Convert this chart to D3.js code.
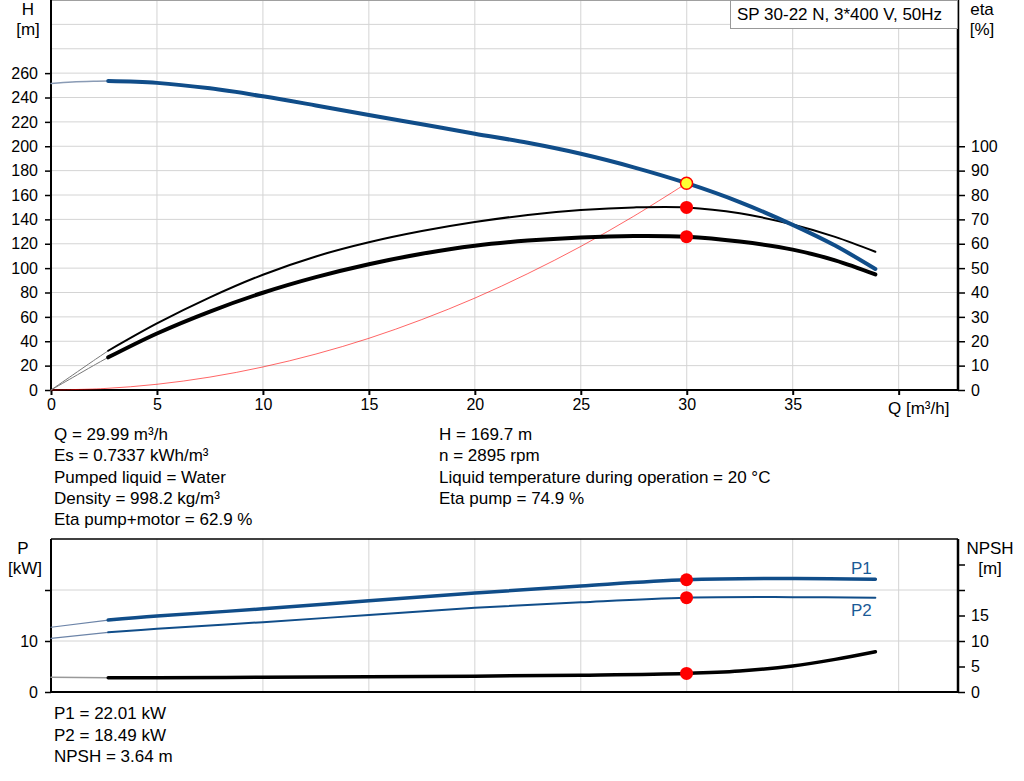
<!DOCTYPE html>
<html>
<head>
<meta charset="utf-8">
<script src="https://cdn.jsdelivr.net/npm/d3@7"></script>
<style>
  body { margin: 0; background: #fff; }
  svg { font-family: Arial, "Liberation Sans", sans-serif; }
  .grid line { stroke: #d4d4d4; stroke-width: 1; }
  .axis path, .axis line { stroke: #000; }
  .axis text { font-size: 16px; fill: #000; }
  .info { font-size: 17px; fill: #000; }
</style>
</head>
<body>
<svg width="1024" height="781"></svg>
<script>
// flow values (m3/h) for the measured part of the curves
var qCurve = [2.7, 5, 7.5, 10, 12.5, 15, 17.5, 20, 22.5, 25, 27.5, 30, 32.5, 35, 37, 38.9];
var headCurve = [253.5, 252, 247.5, 241, 233.5, 225.7, 218, 210.3, 202.8, 193.8, 182.7, 169.7, 154.2, 135.5, 118.5, 99.3];
var etaPump = [16.1, 27.3, 38, 47.3, 54.8, 60.6, 65.2, 68.9, 71.8, 73.8, 74.9, 74.9, 72.5, 67.9, 62.8, 56.7];
var etaTotal = [13.4, 23.2, 32.2, 39.9, 46.3, 51.6, 55.9, 59.2, 61.3, 62.6, 63.2, 62.9, 60.9, 57.6, 53.2, 47.4];

// extrapolated start of the curves (thin)
var qStart = [0, 1, 2, 2.7];
var headStart = [251.5, 252.7, 253.3, 253.5];
var etaPumpStart = [0, 6, 12, 16.1];
var etaTotalStart = [0, 5, 10, 13.4];

// system curve through the duty point
var qSystem = [0, 2.5, 5, 7.5, 10, 12.5, 15, 17.5, 20, 22.5, 25, 27.5, 30];
var headSystem = [0, 1.2, 4.7, 10.6, 18.9, 29.5, 42.4, 57.8, 75.4, 95.5, 117.8, 142.6, 169.7];

// power and NPSH
var qPower = [2.7, 5, 10, 15, 20, 25, 30, 35, 38.9];
var p1 = [14.1, 14.9, 16.3, 17.9, 19.4, 20.8, 22.01, 22.25, 22.1];
var p2 = [11.7, 12.4, 13.7, 15.1, 16.5, 17.6, 18.49, 18.6, 18.5];
var qPowerStart = [0, 2.7];
var p1Start = [12.7, 14.1];
var p2Start = [10.5, 11.7];
var qNpsh = [2.7, 5, 10, 15, 20, 25, 30, 32.5, 35, 37, 38.9];
var npsh = [2.8, 2.8, 2.9, 3.0, 3.1, 3.3, 3.64, 4.1, 5.1, 6.4, 7.9];
var npshStart = [2.9, 2.8];

// duty point
var dutyQ = 29.99;
var dutyH = 169.7;
var dutyEtaPump = 74.9;
var dutyEtaTotal = 62.9;
var dutyP1 = 22.01;
var dutyP2 = 18.49;
var dutyNpsh = 3.64;

// ticks and texts
var qTicks = [0, 5, 10, 15, 20, 25, 30, 35, 40];
var hTicks = [0, 20, 40, 60, 80, 100, 120, 140, 160, 180, 200, 220, 240, 260];
var hGrid = d3.range(20, 320, 20);
var etaTicks = [0, 10, 20, 30, 40, 50, 60, 70, 80, 90, 100];
var pTicks = [0, 10, 20];
var npshTicks = [0, 5, 10, 15, 20, 25];
var title = 'SP 30-22 N, 3*400 V, 50Hz';
var infoLeft = ['Q = 29.99 m\u00b3/h', 'Es = 0.7337 kWh/m\u00b3', 'Pumped liquid = Water',
  'Density = 998.2 kg/m\u00b3', 'Eta pump+motor = 62.9 %'];
var infoRight = ['H = 169.7 m', 'n = 2895 rpm', 'Liquid temperature during operation = 20 \u00b0C',
  'Eta pump = 74.9 %'];
var infoPower = ['P1 = 22.01 kW', 'P2 = 18.49 kW', 'NPSH = 3.64 m'];

var blue = '#104d89';
var svg = d3.select('svg');

var x = d3.scaleLinear().domain([0, 42.8]).range([51, 958]);
var yH = d3.scaleLinear().domain([0, 320]).range([390, 0]);
var yEta = d3.scaleLinear().domain([0, 160]).range([390, 0]);
var yP = d3.scaleLinear().domain([0, 30]).range([692, 539]);
var yN = d3.scaleLinear().domain([0, 30]).range([692, 539]);

function lineOf(xs, ys, yScale) {
  var pts = xs.map(function(q, i) { return [x(q), yScale(ys[i])]; });
  return d3.line().curve(d3.curveCatmullRom.alpha(0.5))(pts);
}

function curve(xs, ys, yScale, color, width) {
  svg.append('path')
    .attr('d', lineOf(xs, ys, yScale))
    .attr('fill', 'none')
    .attr('stroke', color)
    .attr('stroke-width', width)
    .attr('stroke-linecap', 'round');
}

function label(tx, ty, t, anchor) {
  return svg.append('text').attr('class', 'info')
    .attr('x', tx).attr('y', ty)
    .attr('text-anchor', anchor || 'start').text(t);
}

// ---------- upper chart ----------
var upper = svg.append('g');
upper.append('g').attr('class', 'grid')
  .selectAll('line').data(qTicks.slice(1)).join('line')
  .attr('x1', d => x(d)).attr('x2', d => x(d))
  .attr('y1', 0).attr('y2', 390);
upper.append('g').attr('class', 'grid')
  .selectAll('line').data(hGrid).join('line')
  .attr('x1', 51).attr('x2', 958)
  .attr('y1', d => yH(d)).attr('y2', d => yH(d));
upper.append('line')
  .attr('x1', 51).attr('x2', 958).attr('y1', 0.5).attr('y2', 0.5)
  .attr('stroke', '#a0a0a0');

upper.append('g').attr('class', 'axis')
  .attr('transform', 'translate(0,390)')
  .call(d3.axisBottom(x).tickValues(qTicks).tickSize(5).tickPadding(4)
    .tickFormat(d => d === 40 ? '' : d))
  .call(g => g.select('.domain').attr('stroke-width', 2).attr('d', 'M51,0H958'))
  .call(g => g.selectAll('.tick line').attr('stroke-width', 2));
upper.append('g').attr('class', 'axis')
  .attr('transform', 'translate(51,0)')
  .call(d3.axisLeft(yH).tickValues(hTicks).tickSize(6).tickPadding(7))
  .call(g => g.select('.domain').attr('stroke-width', 2).attr('d', 'M0,0V390'))
  .call(g => g.selectAll('.tick line').attr('stroke-width', 1.5));
upper.append('g').attr('class', 'axis')
  .attr('transform', 'translate(958,0)')
  .call(d3.axisRight(yEta).tickValues(etaTicks).tickSize(7).tickPadding(6))
  .call(g => g.select('.domain').attr('stroke-width', 2.5).attr('d', 'M0,0V390'))
  .call(g => g.selectAll('.tick line').attr('stroke-width', 1.5));

label(888, 414, 'Q [m\u00b3/h]');
label(28, 15, 'H', 'middle');
label(28, 35, '[m]', 'middle');
label(982, 15, 'eta', 'middle');
label(982, 35, '[%]', 'middle');

// title box
svg.append('rect').attr('x', 730.5).attr('y', 0.5).attr('width', 227).attr('height', 28)
  .attr('fill', '#fff').attr('stroke', '#999');
label(737, 20, title);

// curves
curve(qSystem, headSystem, yH, 'rgba(255,0,0,0.6)', 1);
curve(qStart, etaPumpStart, yEta, '#777', 1);
curve(qStart, etaTotalStart, yEta, '#777', 1);
curve(qStart, headStart, yH, '#8a9bb5', 1.5);
curve(qCurve, etaPump, yEta, '#000', 2);
curve(qCurve, etaTotal, yEta, '#000', 4);
curve(qCurve, headCurve, yH, blue, 4);

svg.append('circle').attr('cx', x(dutyQ)).attr('cy', yEta(dutyEtaPump)).attr('r', 6.5).attr('fill', '#f00');
svg.append('circle').attr('cx', x(dutyQ)).attr('cy', yEta(dutyEtaTotal)).attr('r', 6.5).attr('fill', '#f00');
svg.append('circle').attr('cx', x(dutyQ)).attr('cy', yH(dutyH)).attr('r', 6)
  .attr('fill', '#ffff33').attr('stroke', '#f00').attr('stroke-width', 1.5);

// info text
infoLeft.forEach(function(t, i) { label(54, 440 + i * 21.3, t); });
infoRight.forEach(function(t, i) { label(439, 440 + i * 21.3, t); });

// ---------- lower chart ----------
var lower = svg.append('g');
lower.append('g').attr('class', 'grid')
  .selectAll('line').data(qTicks.slice(1)).join('line')
  .attr('x1', d => x(d)).attr('x2', d => x(d))
  .attr('y1', 539).attr('y2', 692);
lower.append('g').attr('class', 'grid')
  .selectAll('line').data([10, 20]).join('line')
  .attr('x1', 51).attr('x2', 958)
  .attr('y1', d => yP(d)).attr('y2', d => yP(d));
lower.append('line')
  .attr('x1', 51).attr('x2', 958).attr('y1', 539).attr('y2', 539)
  .attr('stroke', '#000').attr('stroke-width', 1.5);
lower.append('line')
  .attr('x1', 51).attr('x2', 958).attr('y1', 692).attr('y2', 692)
  .attr('stroke', '#000').attr('stroke-width', 2);
lower.append('g').attr('class', 'axis')
  .attr('transform', 'translate(51,0)')
  .call(d3.axisLeft(yP).tickValues(pTicks).tickSize(6).tickPadding(7)
    .tickFormat(d => d === 20 ? '' : d))
  .call(g => g.select('.domain').attr('stroke-width', 2).attr('d', 'M0,539V692'))
  .call(g => g.selectAll('.tick line').attr('stroke-width', 1.5));
lower.append('g').attr('class', 'axis')
  .attr('transform', 'translate(958,0)')
  .call(d3.axisRight(yN).tickValues(npshTicks).tickSize(7).tickPadding(6)
    .tickFormat(d => d >= 20 ? '' : d))
  .call(g => g.select('.domain').attr('stroke-width', 2.5).attr('d', 'M0,539V692'))
  .call(g => g.selectAll('.tick line').attr('stroke-width', 1.5));

label(23, 554, 'P', 'middle');
label(25, 574, '[kW]', 'middle');
label(990, 554, 'NPSH', 'middle');
label(990, 574, '[m]', 'middle');

curve(qPowerStart, p1Start, yP, '#6c84a8', 1.2);
curve(qPowerStart, p2Start, yP, '#6c84a8', 1.2);
curve(qPowerStart, npshStart, yN, '#999', 1.5);
curve(qPower, p1, yP, blue, 3.5);
curve(qPower, p2, yP, blue, 2);
curve(qNpsh, npsh, yN, '#000', 3.5);

label(851, 574, 'P1').style('fill', '#1a5a96');
label(851, 616, 'P2').style('fill', '#1a5a96');

[[dutyP1, yP], [dutyP2, yP], [dutyNpsh, yN]].forEach(function(d) {
  svg.append('circle').attr('cx', x(dutyQ)).attr('cy', d[1](d[0])).attr('r', 6.5).attr('fill', '#f00');
});

infoPower.forEach(function(t, i) { label(54, 719 + i * 21.5, t); });
</script>
</body>
</html>
